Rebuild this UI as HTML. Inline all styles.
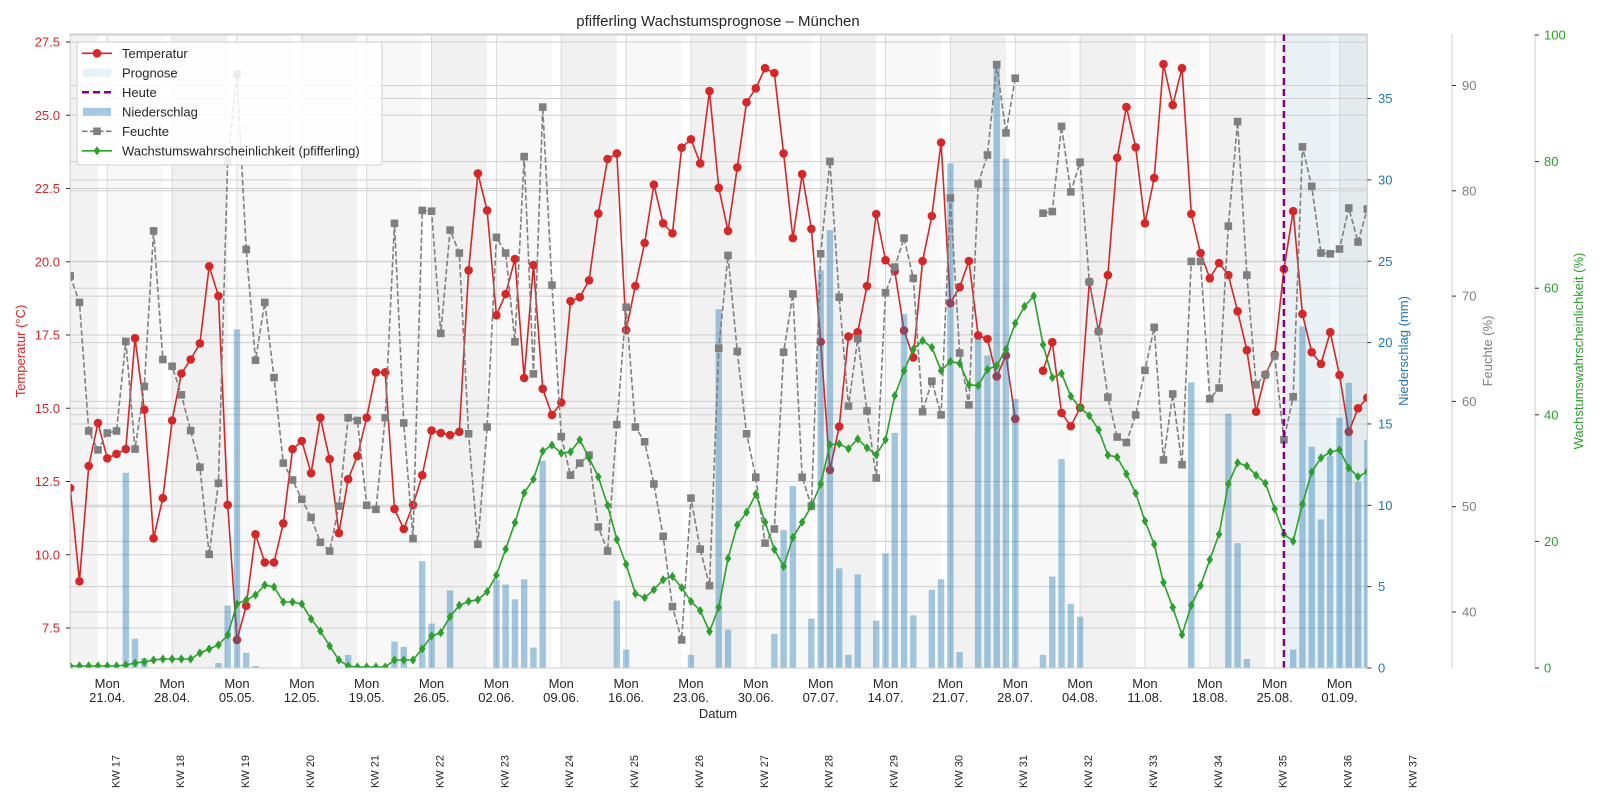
<!DOCTYPE html>
<html><head><meta charset="utf-8"><style>
html,body{margin:0;padding:0;background:#fff;}
svg text{font-family:"Liberation Sans",Arial,sans-serif;}
</style></head><body>
<svg id="c" width="1600" height="800" xmlns="http://www.w3.org/2000/svg"></svg>
<script>
const X0=70.2,DX=9.265,L=70.2,R=1367.3,T=34,B=668;
const xi=i=>X0+i*DX;
const temp=[488.0,581.3,466.0,423.0,458.3,453.9,449.1,338.2,409.7,538.3,498.1,420.5,373.5,359.5,343.4,266.3,296.0,504.9,639.9,605.8,534.3,562.4,562.4,523.4,449.1,441.0,473.2,417.7,459.1,533.1,479.2,455.9,417.7,372.3,372.3,
508.9,529.0,504.9,475.2,430.6,433.0,435.0,431.8,270.3,173.4,210.4,315.3,294.0,259.0,378.0,265.1,388.8,414.9,402.5,301.2,297.2,280.3,213.6,159.0,153.4,330.1,286.0,243.0,184.7,223.3,233.3,147.7,139.3,163.4,91.1,
187.9,230.9,167.4,102.3,88.3,68.2,73.0,153.4,238.1,174.2,228.9,341.8,470.0,426.6,336.6,332.2,286.0,214.0,260.2,271.1,330.5,357.5,261.0,216.0,142.5,303.2,287.2,261.0,335.4,339.0,376.4,355.5,418.9,null,null,
370.7,342.2,412.9,426.2,407.7,281.9,331.4,275.1,157.8,107.1,147.3,223.3,177.9,64.2,105.1,68.2,214.0,253.0,278.3,263.0,275.1,311.3,350.2,411.7,374.7,354.7,269.1,211.2,314.1,352.2,363.9,332.2,375.1,431.8,408.3,397.7];
const hum=[275.9,302.4,431.0,449.9,433.0,431.0,341.4,449.1,386.4,230.9,359.5,366.3,394.8,430.6,467.2,554.3,483.2,161.0,74.2,249.4,360.3,302.4,377.6,463.1,480.0,499.3,517.4,542.3,551.1,506.1,417.7,420.5,505.3,509.3,417.7,
223.3,423.0,538.7,210.4,211.2,333.4,230.1,253.0,433.8,544.3,427.0,237.3,253.0,341.8,156.6,373.9,107.1,285.1,436.6,475.2,463.1,455.1,527.0,551.1,424.6,307.2,427.0,441.8,484.0,536.3,606.6,639.9,498.1,549.1,585.7,
348.2,255.4,351.4,433.8,477.2,543.1,529.0,352.2,294.0,477.2,506.1,253.8,161.4,297.2,406.1,338.6,410.9,478.0,292.8,267.1,238.1,278.3,411.7,381.2,414.9,198.0,353.0,404.9,183.9,155.0,64.6,132.9,78.2,null,null,
213.2,211.6,126.4,191.9,162.2,281.9,331.4,397.2,437.0,442.6,414.9,370.3,327.3,459.9,394.0,464.7,261.4,261.4,398.8,388.0,226.1,121.6,275.1,384.8,374.7,355.9,439.8,396.8,146.9,186.3,253.0,253.8,249.0,208.0,242,209];
const grn=[666,666,666,666,666,666,665,663,662,660,659,659,659,659,653,649,645,635,604,600,595,585,587,602,602,604,619,631,646,660,666,667,667,667,667,
660,660,660,648.8,635.9,632.7,616.6,605.4,601.4,599.7,591.7,575.2,549.1,522.6,492.9,479.2,451.1,445.1,453.1,451.9,439.8,457.9,476.8,505.3,539.5,564.4,593.7,597.7,589.7,579.7,576.4,587.7,601.4,610.6,631.5,
607.4,558.4,525.0,512.2,494.1,522.2,549.5,566.4,537.5,522.2,506.1,484.0,444.7,443.9,448.7,439.0,447.9,454.7,439.8,395.6,370.7,349.4,340.6,347.4,370.7,361.5,363.5,384.8,385.6,369.5,365.5,349.4,323.3,306.4,
296.0,344.6,377.6,373.5,396.4,407.7,415.7,429.8,455.1,457.1,474.0,493.3,521.0,544.3,582.5,607.4,634.7,605.4,585.7,559.6,534.3,484.0,462.7,466.0,475.2,483.2,508.9,534.3,541.1,504.1,472.0,457.9,451.9,449.9,468.0,476.7,471.7];
const bars={6:472.8,7:638.7,8:658,16:663,17:605.5,18:329.3,19:652.8,20:666,30:655,35:641.6,36:646.8,38:561.2,39:623.5,41:590.5,46:579.7,47:584.5,48:599.3,49:579.3,50:647.6,51:460.7,59:600.6,60:649.6,67:654.8,70:309.3,71:629.5,76:633.9,77:530.2,78:486.1,80:618.6,81:270.3,82:230.1,83:568.4,84:654.8,85:574.4,87:620.6,88:553.5,89:433.0,90:314.1,91:615.4,93:589.7,94:579.3,95:163.4,96:652.0,98:338.6,99:355.5,100:66.2,101:158.6,102:398.9,105:654.8,106:576.5,107:459.1,108:603.8,109:616.6,121:382.4,125:413.7,126:543.1,127:659,132:649.6,133:326.5,134:446.7,135:519.4,136:455.9,137:417.7,138:382.8,139:481.7,140:440};
let s='';
s+='<defs><clipPath id="cp"><rect x="'+L+'" y="'+T+'" width="'+(R-L)+'" height="'+(B-T)+'"/></clipPath></defs>';
s+='<g clip-path="url(#cp)">';
// bands
s+='<rect x="'+L+'" y="'+T+'" width="'+(xi(3)-L)+'" height="'+(B-T)+'" fill="#f3f3f3"/>';
for(let k=0;k<20;k++){const m=4+7*k;const x1=xi(m),x2=Math.min(xi(m+6),R);if(x1>R)break;
 s+='<rect x="'+x1+'" y="'+T+'" width="'+(x2-x1)+'" height="'+(B-T)+'" fill="'+(k%2?'#f1f1f1':'#f8f8f8')+'"/>';}
s+='<rect x="'+xi(131)+'" y="'+T+'" width="'+(R-xi(131))+'" height="'+(B-T)+'" fill="#add8e6" fill-opacity="0.2"/>';
// grids
const gl=[];
for(let k=0;k<9;k++)gl.push(628-k*73.25);
for(let k=0;k<8;k++)gl.push(668-k*81.35);
for(let k=0;k<6;k++)gl.push(612-k*105.3);
for(let k=0;k<6;k++)gl.push(668-k*126.6);
gl.forEach(y=>s+='<line x1="'+L+'" x2="'+R+'" y1="'+y+'" y2="'+y+'" stroke="#cfcfcf" stroke-width="1"/>');
for(let k=0;k<20;k++){const x=xi(4+7*k);s+='<line x1="'+x+'" x2="'+x+'" y1="'+T+'" y2="'+B+'" stroke="#d8d8d8" stroke-width="1"/>';}
// temperature
function segs(arr){let out=[],cur=[];arr.forEach((v,i)=>{if(v==null){if(cur.length)out.push(cur);cur=[];}else cur.push([xi(i),v]);});if(cur.length)out.push(cur);return out;}
segs(temp).forEach(sg=>s+='<polyline points="'+sg.map(p=>p.join(',')).join(' ')+'" fill="none" stroke="#d62728" stroke-width="1.6"/>');
temp.forEach((v,i)=>{if(v!=null)s+='<circle cx="'+xi(i)+'" cy="'+v+'" r="4.3" fill="#d62728"/>';});
// bars
for(const k in bars){const x=xi(+k);s+='<rect x="'+(x-3.2)+'" y="'+bars[k]+'" width="6.4" height="'+(B-bars[k])+'" fill="#1f77b4" fill-opacity="0.4"/>';}
// humidity
segs(hum).forEach(sg=>s+='<polyline points="'+sg.map(p=>p.join(',')).join(' ')+'" fill="none" stroke="#7f7f7f" stroke-width="1.6" stroke-dasharray="5.5,2.5"/>');
hum.forEach((v,i)=>{if(v!=null)s+='<rect x="'+(xi(i)-3.8)+'" y="'+(v-3.8)+'" width="7.6" height="7.6" fill="#7f7f7f"/>';});
// green
s+='<polyline points="'+grn.map((v,i)=>xi(i)+','+v).join(' ')+'" fill="none" stroke="#2ca02c" stroke-width="1.6"/>';
grn.forEach((v,i)=>{const x=xi(i);s+='<polygon points="'+x+','+(v-4.6)+' '+(x+3.3)+','+v+' '+x+','+(v+4.6)+' '+(x-3.3)+','+v+'" fill="#2ca02c"/>';});
// today
s+='<line x1="'+xi(131)+'" x2="'+xi(131)+'" y1="'+T+'" y2="'+B+'" stroke="#800080" stroke-width="2.5" stroke-dasharray="7,4"/>';
s+='</g>';
// frame
s+='<rect x="'+L+'" y="'+T+'" width="'+(R-L)+'" height="'+(B-T)+'" fill="none" stroke="#cccccc" stroke-width="1"/>';
// left ticks
const tl=['7.5','10.0','12.5','15.0','17.5','20.0','22.5','25.0','27.5'];
tl.forEach((t,k)=>{const y=628-k*73.25;s+='<line x1="66" x2="70" y1="'+y+'" y2="'+y+'" stroke="#333"/>';s+='<text x="60" y="'+(y+4.5)+'" font-size="13" fill="#d62728" text-anchor="end">'+t+'</text>';});
for(let k=0;k<8;k++){const y=668-k*81.35;s+='<line x1="'+R+'" x2="'+(R+4)+'" y1="'+y+'" y2="'+y+'" stroke="#333"/>';s+='<text x="1378" y="'+(y+4.5)+'" font-size="13" fill="#1f77b4">'+(k*5)+'</text>';}
s+='<line x1="1452" x2="1452" y1="'+T+'" y2="'+B+'" stroke="#cccccc"/>';
for(let k=0;k<6;k++){const y=612-k*105.3;s+='<line x1="1452" x2="1456" y1="'+y+'" y2="'+y+'" stroke="#333"/>';s+='<text x="1462" y="'+(y+4.5)+'" font-size="13" fill="#7f7f7f">'+(40+k*10)+'</text>';}
s+='<line x1="1535" x2="1535" y1="'+T+'" y2="'+B+'" stroke="#cccccc"/>';
for(let k=0;k<6;k++){const y=668-k*126.6;s+='<line x1="1535" x2="1539" y1="'+y+'" y2="'+y+'" stroke="#333"/>';s+='<text x="1544" y="'+(y+4.5)+'" font-size="13" fill="#2ca02c">'+(k*20)+'</text>';}
// x ticks
const dates=['21.04.','28.04.','05.05.','12.05.','19.05.','26.05.','02.06.','09.06.','16.06.','23.06.','30.06.','07.07.','14.07.','21.07.','28.07.','04.08.','11.08.','18.08.','25.08.','01.09.'];
dates.forEach((d,k)=>{const x=xi(4+7*k);s+='<text x="'+x+'" y="688" font-size="13" fill="#262626" text-anchor="middle">Mon</text><text x="'+x+'" y="702" font-size="13" fill="#262626" text-anchor="middle">'+d+'</text>';});
for(let k=0;k<21;k++){const x=xi(4+7*k)+8;s+='<text transform="translate('+(x+4)+',788) rotate(-90)" font-size="11" fill="#262626">KW '+(17+k)+'</text>';}
s+='<text x="718" y="718" font-size="13" fill="#262626" text-anchor="middle">Datum</text>';
s+='<text x="718" y="26" font-size="15" fill="#262626" text-anchor="middle">pfifferling Wachstumsprognose – München</text>';
s+='<text transform="translate(25,351) rotate(-90)" font-size="13" fill="#d62728" text-anchor="middle">Temperatur (°C)</text>';
s+='<text transform="translate(1408,351) rotate(-90)" font-size="13" fill="#1f77b4" text-anchor="middle">Niederschlag (mm)</text>';
s+='<text transform="translate(1492,351) rotate(-90)" font-size="13" fill="#7f7f7f" text-anchor="middle">Feuchte (%)</text>';
s+='<text transform="translate(1583,351) rotate(-90)" font-size="13" fill="#2ca02c" text-anchor="middle">Wachstumswahrscheinlichkeit (%)</text>';
// legend
s+='<rect x="77" y="42" width="305" height="123" rx="3" fill="#fff" fill-opacity="0.85" stroke="#d0d0d0"/>';
const ly=[53.3,72.8,92.3,111.8,131.3,150.8];
s+='<line x1="82" x2="112" y1="'+ly[0]+'" y2="'+ly[0]+'" stroke="#d62728" stroke-width="1.6"/><circle cx="97" cy="'+ly[0]+'" r="4.3" fill="#d62728"/>';
s+='<rect x="83" y="'+(ly[1]-4)+'" width="28" height="8" fill="#add8e6" fill-opacity="0.3"/>';
s+='<line x1="82" x2="112" y1="'+ly[2]+'" y2="'+ly[2]+'" stroke="#800080" stroke-width="2.5" stroke-dasharray="7,4"/>';
s+='<rect x="83" y="'+(ly[3]-4)+'" width="28" height="8" fill="#1f77b4" fill-opacity="0.4"/>';
s+='<line x1="82" x2="112" y1="'+ly[4]+'" y2="'+ly[4]+'" stroke="#7f7f7f" stroke-width="1.6" stroke-dasharray="5.5,2.5"/><rect x="93.2" y="'+(ly[4]-3.8)+'" width="7.6" height="7.6" fill="#7f7f7f"/>';
s+='<line x1="82" x2="112" y1="'+ly[5]+'" y2="'+ly[5]+'" stroke="#2ca02c" stroke-width="1.6"/><polygon points="97,'+(ly[5]-4.6)+' 100.3,'+ly[5]+' 97,'+(ly[5]+4.6)+' 93.7,'+ly[5]+'" fill="#2ca02c"/>';
['Temperatur','Prognose','Heute','Niederschlag','Feuchte','Wachstumswahrscheinlichkeit (pfifferling)'].forEach((t,k)=>s+='<text x="122" y="'+(ly[k]+4.5)+'" font-size="13" fill="#262626">'+t+'</text>');
document.getElementById('c').innerHTML=s;
</script>
</body></html>
